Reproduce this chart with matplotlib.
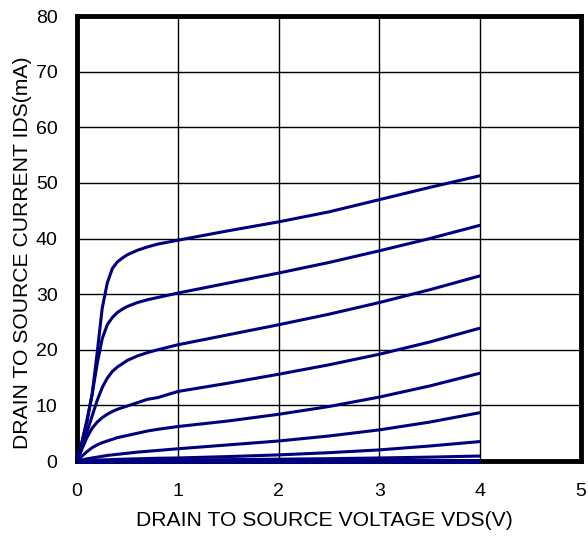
import matplotlib.pyplot as plt

plt.rcParams['font.family'] = ['Liberation Sans', 'DejaVu Sans']

# VDS (V) sample points for each curve
vds = [0, 0.05, 0.1, 0.15, 0.2, 0.25, 0.3, 0.35, 0.4, 0.45, 0.5, 0.6, 0.7, 0.8,
       1.0, 1.5, 2.0, 2.5, 3.0, 3.5, 4.0]

# IDS (mA) curves, top to bottom
ids_1 = [0, 3.5, 7.2, 12.0, 19.5, 27.5, 32.0, 34.6, 35.8, 36.5, 37.1, 37.9, 38.5, 39.0,
         39.7, 41.4, 43.0, 44.8, 47.0, 49.2, 51.3]
ids_2 = [0, 3.5, 7.5, 12.0, 17.5, 22.0, 24.5, 25.8, 26.7, 27.3, 27.8, 28.5, 29.0, 29.4,
         30.2, 32.0, 33.8, 35.7, 37.8, 40.0, 42.4]
ids_3 = [0, 2.6, 5.3, 8.1, 10.9, 13.2, 14.9, 16.1, 16.9, 17.5, 18.1, 18.9, 19.5, 20.0,
         20.9, 22.7, 24.5, 26.4, 28.5, 30.8, 33.3]
ids_4 = [0, 2.2, 4.3, 5.9, 7.0, 7.8, 8.4, 8.9, 9.3, 9.6, 9.9, 10.5, 11.1, 11.4,
         12.5, 14.0, 15.6, 17.3, 19.2, 21.4, 23.9]
ids_5 = [0, 0.9, 1.7, 2.4, 2.9, 3.3, 3.6, 3.9, 4.2, 4.4, 4.6, 5.0, 5.4, 5.7,
         6.2, 7.2, 8.4, 9.8, 11.5, 13.5, 15.8]
ids_6 = [0, 0.2, 0.4, 0.55, 0.7, 0.85, 1.0, 1.1, 1.2, 1.3, 1.4, 1.6, 1.75, 1.9,
         2.2, 2.9, 3.6, 4.5, 5.6, 7.0, 8.7]
ids_7 = [0, 0.05, 0.1, 0.13, 0.16, 0.2, 0.23, 0.26, 0.3, 0.32, 0.35, 0.4, 0.45, 0.5,
         0.55, 0.8, 1.1, 1.5, 2.0, 2.7, 3.5]
ids_8 = [0, 0.01, 0.02, 0.03, 0.04, 0.05, 0.06, 0.07, 0.08, 0.09, 0.1, 0.12, 0.14, 0.15,
         0.18, 0.25, 0.33, 0.42, 0.55, 0.7, 0.9]
ids_9 = [0] * len(vds)

curves = [ids_1, ids_2, ids_3, ids_4, ids_5, ids_6, ids_7, ids_8]

x_ticks = [0, 1, 2, 3, 4, 5]
y_ticks = [0, 10, 20, 30, 40, 50, 60, 70, 80]

fig = plt.figure(figsize=(5.88, 5.37), dpi=100)
ax = fig.add_axes([0.131, 0.1415, 0.857, 0.8285])

for ids in curves:
    ax.plot(vds, ids, color='#00007f', lw=2.2, solid_capstyle='butt', zorder=3, clip_on=False)
# the lowest curve sits right on the axis and looks heavier
ax.plot(vds, ids_9, color='#00007f', lw=3.5, solid_capstyle='butt', zorder=4, clip_on=False)

ax.set_xlim(0, 5)
ax.set_ylim(0, 80)
ax.set_xticks(x_ticks)
ax.set_yticks(y_ticks)
ax.grid(True, color='black', lw=1.0)
ax.set_axisbelow(True)
ax.tick_params(axis='x', length=0, labelsize=14, pad=16)
ax.tick_params(axis='y', length=0, labelsize=14, pad=14)

for sp in ax.spines.values():
    sp.set_linewidth(3.5)
    sp.set_color('black')

ax.set_xlabel('DRAIN TO SOURCE VOLTAGE VDS(V)', fontsize=15.2, labelpad=8)
ax.set_ylabel('DRAIN TO SOURCE CURRENT IDS(mA)', fontsize=15.2, labelpad=3)
# labels in the original are slightly off-centre
ax.xaxis.label.set_x(0.491)
ax.yaxis.label.set_y(0.467)

fig.savefig('out.png', dpi=100)
